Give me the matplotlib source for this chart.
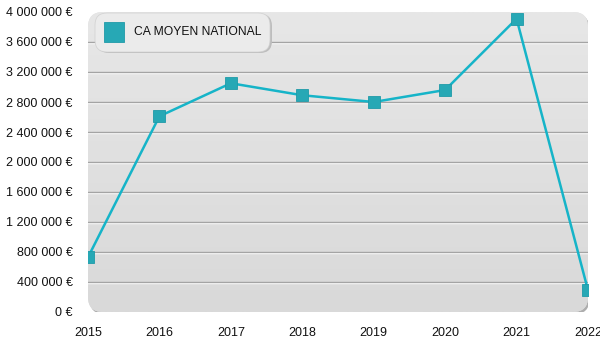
import matplotlib
matplotlib.use("Agg")
import matplotlib.pyplot as plt
from matplotlib.patches import FancyBboxPatch
from matplotlib.lines import Line2D
import numpy as np

years = [2015, 2016, 2017, 2018, 2019, 2020, 2021, 2022]
ca_moyen = [730000, 2610000, 3050000, 2890000, 2800000, 2960000, 3910000, 290000]
y_ticks = [0, 400000, 800000, 1200000, 1600000, 2000000, 2400000, 2800000, 3200000, 3600000, 4000000]
series_label = "CA MOYEN NATIONAL"

plt.rcParams['font.family'] = ['Liberation Sans', 'DejaVu Sans']

fig = plt.figure(figsize=(6, 3.5), dpi=100)
ax = fig.add_axes([88/600, 38/350, 500/600, 300/350])
ax.set_xlim(years[0], years[-1])
ax.set_ylim(0, 4000000)
ax.patch.set_visible(False)
for s in ax.spines.values():
    s.set_visible(False)

# shadow
shadow = FancyBboxPatch((0.003, -0.007), 1.0, 1.0, boxstyle="round,pad=0,rounding_size=0.03",
                        transform=ax.transAxes, facecolor='#adadad', edgecolor='none',
                        mutation_aspect=500/300, zorder=0)
ax.add_patch(shadow)
bg = FancyBboxPatch((0, 0), 1.0, 1.0, boxstyle="round,pad=0,rounding_size=0.03",
                    transform=ax.transAxes, facecolor='#e0e0e0', edgecolor='none',
                    mutation_aspect=500/300, zorder=0.5)
ax.add_patch(bg)
grad = np.linspace(0, 1, 256).reshape(-1, 1)
im = ax.imshow(grad, extent=[0, 1, 0, 1], transform=ax.transAxes, aspect='auto',
               cmap=matplotlib.colors.LinearSegmentedColormap.from_list('g', ['#d9d9d9', '#e7e7e7']),
               origin='lower', zorder=0.6)
im.set_clip_path(bg)

# gridlines
for t in y_ticks[1:-1]:
    ax.axhline(t, color='#a4a4a4', lw=1.0, zorder=1)
    ax.plot([years[0], years[-1]], [t, t], color='white', lw=1.0, zorder=0.9,
            transform=ax.transData + matplotlib.transforms.ScaledTranslation(0, -1/100, fig.dpi_scale_trans))

ax.plot(years, ca_moyen, color='#16b4c8', lw=1.8, zorder=3)
ax.plot(years, ca_moyen, linestyle='none', marker='s', markersize=9,
        markerfacecolor='#27a8b5', markeredgecolor='#1f9aa8', markeredgewidth=0.6, zorder=4)

ax.set_yticks(y_ticks)
ax.set_yticklabels([("{:,}".format(v).replace(",", " ") + " €") for v in y_ticks])
ax.set_xticks(years)
ax.set_xticklabels([str(y) for y in years])
ax.tick_params(axis='both', length=0, labelsize=9, colors='#111111')
ax.tick_params(axis='y', pad=11)
ax.tick_params(axis='x', pad=11)

# legend box
leg_shadow = FancyBboxPatch((97/600, 297/350), 175/600, 39/350, boxstyle="round,pad=0,rounding_size=0.02",
                            transform=fig.transFigure, facecolor='#bdbdbd', edgecolor='none',
                            mutation_aspect=600/350, zorder=5)
fig.patches.append(leg_shadow)
leg = FancyBboxPatch((95/600, 298/350), 175/600, 39/350, boxstyle="round,pad=0,rounding_size=0.02",
                     transform=fig.transFigure, facecolor='#ebebeb', edgecolor='#d0d0d0', lw=0.5,
                     mutation_aspect=600/350, zorder=6)
fig.patches.append(leg)
fig.add_artist(Line2D([114/600], [318/350], marker='s', markersize=14, linestyle='none',
                      markerfacecolor='#27a8b5', markeredgecolor='#1f9aa8', markeredgewidth=0.6,
                      transform=fig.transFigure, zorder=7))
fig.text(134/600, 318/350, series_label, fontsize=8.7, va='center', ha='left', color='#111111', zorder=7)

fig.savefig("out.png", dpi=100)
